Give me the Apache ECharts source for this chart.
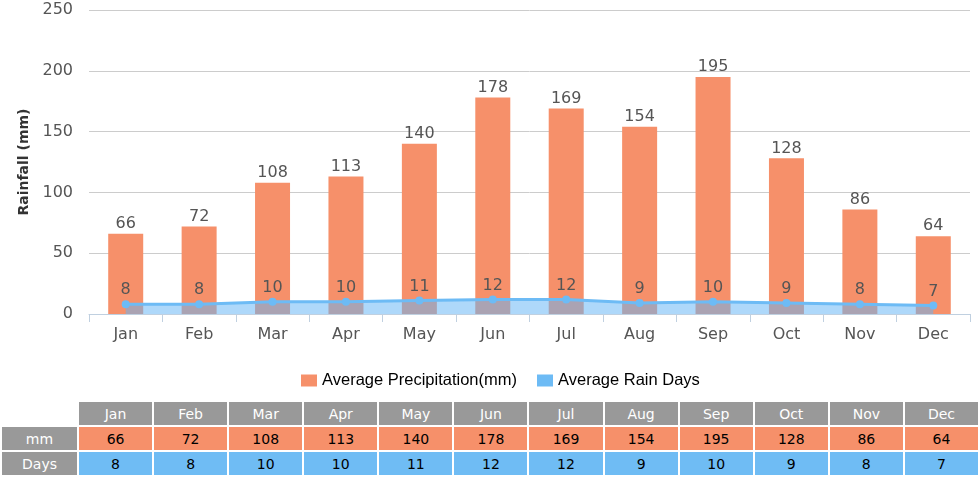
<!DOCTYPE html>
<html><head><meta charset="utf-8">
<script src="https://cdn.jsdelivr.net/npm/echarts@6/dist/echarts.min.js"></script>
<style>
html,body{margin:0;padding:0;background:#fff;}
#chart{position:absolute;left:0;top:0;width:980px;height:395px;}
#tbl{position:absolute;left:0;top:400px;width:980px;border-collapse:separate;border-spacing:2px;font-family:Verdana,"DejaVu Sans",sans-serif;font-size:14px;table-layout:fixed;}
#tbl td{text-align:center;height:23px;padding:0;}
#tbl td.h{background:#999;color:#fff;}
#tbl td.m{background:#F6906A;color:#000;}
#tbl td.d{background:#6FBCF4;color:#000;}
</style></head>
<body>
<div id="chart"></div>
<table id="tbl"></table>
<script>
const months = ['Jan','Feb','Mar','Apr','May','Jun','Jul','Aug','Sep','Oct','Nov','Dec'];
const precipitation = [66,72,108,113,140,178,169,154,195,128,86,64];
const rainDays = [8,8,10,10,11,12,12,9,10,9,8,7];
const yTicks = {min:0, max:250, interval:50};

const font = 'Verdana, "DejaVu Sans", sans-serif';
const chart = echarts.init(document.getElementById('chart'));
chart.setOption({
  animation:false,
  grid:{left:89,right:10,top:10,bottom:81},
  legend:{
    top:367, left:296, itemWidth:16, itemHeight:12, itemGap:20,
    icon:'rect',
    textStyle:{fontFamily:'Arial, "Liberation Sans", sans-serif',fontSize:16.5,color:'#000'},
    data:['Average Precipitation(mm)','Average Rain Days']
  },
  xAxis:{
    type:'category', data:months,
    axisLine:{lineStyle:{color:'#c0d0e0'}},
    axisTick:{show:true,length:8,lineStyle:{color:'#c0d0e0'}},
    axisLabel:{fontFamily:font,fontSize:16,color:'#555',margin:13}
  },
  yAxis:{
    type:'value', min:yTicks.min, max:yTicks.max, interval:yTicks.interval,
    name:'Rainfall (mm)', nameLocation:'middle', nameGap:57,
    nameTextStyle:{fontFamily:font,fontSize:14,fontWeight:'bold',color:'#333'},
    axisLine:{show:false}, axisTick:{show:false},
    axisLabel:{fontFamily:font,fontSize:16,color:'#555',margin:16},
    splitLine:{lineStyle:{color:'#ccc'}}
  },
  series:[
    {name:'Average Precipitation(mm)', type:'bar', data:precipitation, barWidth:35,
     itemStyle:{color:'#F6906A'},
     label:{show:true,position:'top',distance:2,fontFamily:font,fontSize:16,color:'#555'}},
    {name:'Average Rain Days', type:'line', data:rainDays, z:3,
     symbol:'circle', symbolSize:8,
     lineStyle:{color:'#6DBBF5',width:3},
     itemStyle:{color:'#6DBBF5'},
     areaStyle:{color:'rgba(100,180,245,0.75)'},
     label:{show:true,position:'top',distance:2,fontFamily:font,fontSize:16,color:'#555'}}
  ]
});

const tbl = document.getElementById('tbl');
let html = '<colgroup><col style="width:75px">' + months.map(()=>'<col>').join('') + '</colgroup>';
html += '<tr><td></td>' + months.map(m=>'<td class="h">'+m+'</td>').join('') + '</tr>';
html += '<tr><td class="h">mm</td>' + precipitation.map(v=>'<td class="m">'+v+'</td>').join('') + '</tr>';
html += '<tr><td class="h">Days</td>' + rainDays.map(v=>'<td class="d">'+v+'</td>').join('') + '</tr>';
tbl.innerHTML = html;
</script>
</body></html>
